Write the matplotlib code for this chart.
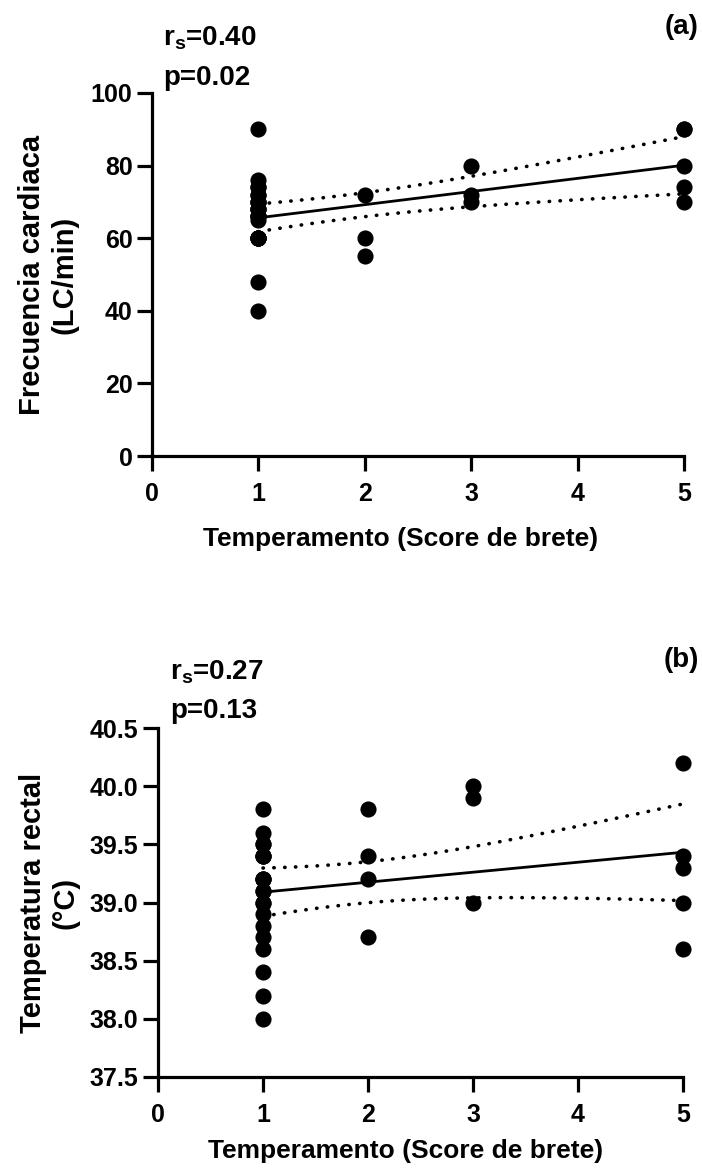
import math
import numpy as np
import matplotlib
matplotlib.use("Agg")
import matplotlib.pyplot as plt

# ---------------- data ----------------
# Panel (a): heart rate vs temperament score
hr_score = [1]*23 + [2]*3 + [3]*3 + [5]*5
hr_value = [90, 76, 74, 72, 70, 68, 66, 60, 48, 40,
            60, 60, 60, 60, 65, 66, 66, 68, 68, 70, 70, 72, 74,
            72, 60, 55,
            80, 72, 70,
            90, 90, 80, 74, 70]

# Panel (b): rectal temperature vs temperament score
rt_score = [1]*21 + [2]*4 + [3]*3 + [5]*5
rt_value = [39.8, 39.6, 39.5, 39.4, 39.2, 39.1, 39.0, 38.9, 38.8, 38.7, 38.6,
            38.4, 38.2, 38.0, 39.1, 39.2, 39.2, 39.4, 39.0, 39.5, 39.4,
            39.8, 39.4, 39.2, 38.7,
            40.0, 39.9, 39.0,
            40.2, 39.4, 39.3, 39.0, 38.6]

x_ticks = [0, 1, 2, 3, 4, 5]
hr_yticks = [0, 20, 40, 60, 80, 100]
rt_yticks = [37.5, 38.0, 38.5, 39.0, 39.5, 40.0, 40.5]
stats_a = ("0.40", "0.02")
stats_b = ("0.27", "0.13")

FONT = "Liberation Sans"
plt.rcParams["font.family"] = [FONT, "DejaVu Sans"]
plt.rcParams["font.weight"] = "bold"
plt.rcParams["mathtext.default"] = "regular"


def t_crit(df, p=0.975):
    c = math.exp(math.lgamma((df + 1) / 2) - math.lgamma(df / 2)) / math.sqrt(df * math.pi)
    ts = np.linspace(0, 10, 200001)
    pdf = c * (1 + ts**2 / df) ** (-(df + 1) / 2)
    cdf = 0.5 + np.concatenate([[0], np.cumsum((pdf[1:] + pdf[:-1]) / 2 * np.diff(ts))])
    return float(np.interp(p, cdf, ts))


def fit_with_ci(x, y):
    x = np.asarray(x, float)
    y = np.asarray(y, float)
    n = len(x)
    b, a = np.polyfit(x, y, 1)
    resid = y - (a + b * x)
    s = math.sqrt(np.sum(resid**2) / (n - 2))
    xbar = x.mean()
    sxx = np.sum((x - xbar) ** 2)
    xs = np.linspace(x.min(), x.max(), 200)
    yf = a + b * xs
    half = t_crit(n - 2) * s * np.sqrt(1 / n + (xs - xbar) ** 2 / sxx)
    return xs, yf, yf - half, yf + half


W, H = 702, 1173
fig = plt.figure(figsize=(W / 100, H / 100), dpi=100)
DOTS = (0, (0.1, 2.9))


def make_panel(rect, x, y, yticks, ylim, ylabel, fmt, xlab_pos, ylab_pos):
    ax = fig.add_axes(rect)
    ax.scatter(x, y, s=135, color="black", zorder=3, clip_on=False, linewidths=0)
    xs, yf, lo, hi = fit_with_ci(x, y)
    ax.plot(xs, yf, color="black", lw=2.0, zorder=4)
    ax.plot(xs, lo, color="black", lw=2.6, ls=DOTS, dash_capstyle="round", zorder=4)
    ax.plot(xs, hi, color="black", lw=2.6, ls=DOTS, dash_capstyle="round", zorder=4)
    ax.set_xlim(0, 5)
    ax.set_ylim(*ylim)
    ax.set_xticks(x_ticks)
    ax.set_yticks(yticks)
    ax.set_yticklabels([fmt.format(v) for v in yticks])
    for sp in ("top", "right"):
        ax.spines[sp].set_visible(False)
    for sp in ("left", "bottom"):
        ax.spines[sp].set_linewidth(2.3)
    ax.tick_params(direction="out", length=11, width=2.3, labelsize=18)
    ax.tick_params(axis="x", pad=8)
    ax.tick_params(axis="y", pad=3)
    for lab in ax.get_xticklabels() + ax.get_yticklabels():
        lab.set_fontweight("bold")
    ax.set_xlabel("Temperamento (Score de brete)", fontsize=19, fontweight="bold")
    ax.xaxis.set_label_coords(*xlab_pos)
    ax.set_ylabel(ylabel, fontsize=21, fontweight="bold", linespacing=1.2)
    ax.yaxis.set_label_coords(*ylab_pos)
    return ax


make_panel([152 / W, 1 - 456 / H, 532 / W, 363 / H], hr_score, hr_value,
           hr_yticks, (0, 100), "Frecuencia cardiaca\n(LC/min)", "{:.0f}",
           (0.468, -0.196), (-0.139, 0.5))
make_panel([158 / W, 1 - 1077 / H, 525 / W, 349 / H], rt_score, rt_value,
           rt_yticks, (37.5, 40.5), "Temperatura rectal\n(°C)", "{:.1f}",
           (0.472, -0.178), (-0.149, 0.5))


def ftxt(px, py, s, **kw):
    fig.text(px / W, 1 - py / H, s, fontsize=20, fontweight="bold", **kw)


ftxt(163, 45, r"$\mathregular{r_s}$=" + stats_a[0], va="baseline")
ftxt(163, 85, "p=" + stats_a[1], va="baseline")
ftxt(699, 27, "(a)", ha="right", va="center")
ftxt(170, 680, r"$\mathregular{r_s}$=" + stats_b[0], va="baseline")
ftxt(170, 718, "p=" + stats_b[1], va="baseline")
ftxt(699, 660, "(b)", ha="right", va="center")

fig.savefig("out.png", dpi=100)
